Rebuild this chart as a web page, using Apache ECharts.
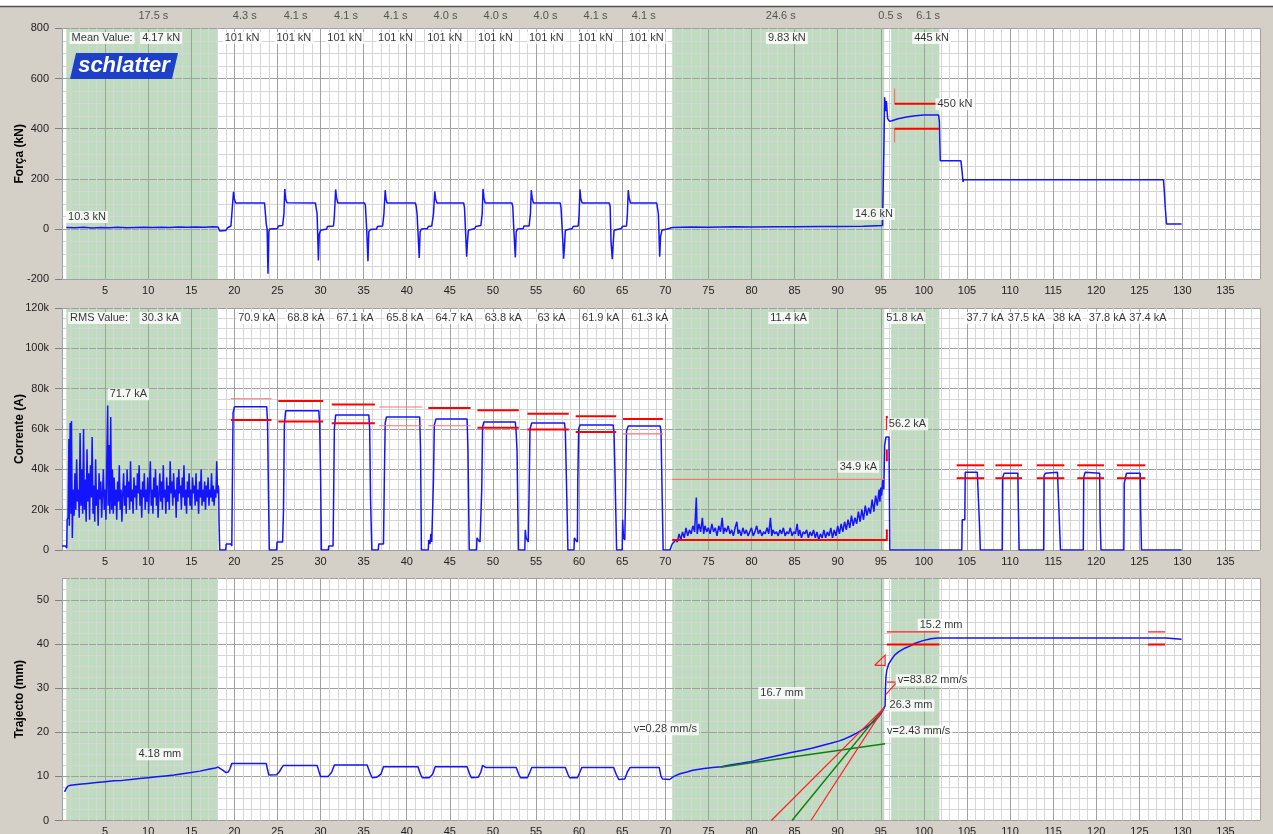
<!DOCTYPE html>
<html><head><meta charset="utf-8">
<script src="https://cdn.jsdelivr.net/npm/echarts@6/dist/echarts.min.js"></script>
<style>html,body{margin:0;padding:0;background:#d4d0c8}#c{width:1273px;height:834px}</style>
</head><body><div id="c"></div>
<script>
// ---------------- DATA ----------------
const timeMax = 139;
const greenZones = [[0.5, 18.1], [70.8, 95.4], [96.2, 101.8]];

// header: segment durations [label, t]
const durationLabels = [["17.5 s",10.6],["4.3 s",21.2],["4.1 s",27.1],["4.1 s",32.95],["4.1 s",38.7],["4.0 s",44.5],["4.0 s",50.3],["4.0 s",56.1],["4.1 s",61.9],["4.1 s",67.5],["24.6 s",83.4],["0.5 s",96.1],["6.1 s",100.5]];

// force panel
const forceMeanLabels = [["Mean Value:",4.65],["4.17 kN",11.5],["101 kN",20.9],["101 kN",26.9],["101 kN",32.8],["101 kN",38.7],["101 kN",44.4],["101 kN",50.3],["101 kN",56.2],["101 kN",61.9],["101 kN",67.8],["9.83 kN",84.1],["445 kN",100.9]];
const forceNotes = [["10.3 kN",2.9,48],["14.6 kN",94.2,60],["450 kN",103.6,498]];
const forceTrace = [[0.5,6],[1.5,5],[2.5,7],[3.5,4],[4.5,6],[5.5,5],[6.5,7],[7.5,5],[8.5,6],[9.5,7],[10.5,6],[11.5,7],[12.5,6],[13.5,8],[14.5,7],[15.5,8],[16.5,7],[17.5,9],[18.1,8],
[18.3,-8],[19.0,-6],[19.2,5],[19.6,12],[19.8,15],[19.9,148],[20.0,120],[20.15,104],[23.5,104],[23.6,100],[23.7,20],[23.8,0],[23.9,-178],[24.0,-10],[24.1,0],[25.0,2],[25.1,12],[25.6,14],[25.75,60],[25.85,160],[25.95,120],[26.1,105],
[29.4,104],[29.5,100],[29.6,60],[29.75,-125],[29.85,-20],[30.0,-5],[30.7,0],[30.8,10],[31.5,12],[31.6,50],[31.75,158],[31.85,125],[32.0,104],
[35.1,104],[35.2,95],[35.35,0],[35.5,-128],[35.6,-10],[35.8,-2],[36.5,0],[36.6,10],[37.2,12],[37.35,60],[37.5,155],[37.6,120],[37.7,104],
[41.0,104],[41.1,90],[41.2,60],[41.45,-115],[41.55,-10],[41.7,0],[42.4,2],[42.5,10],[42.9,12],[43.1,60],[43.25,150],[43.35,120],[43.5,104],
[46.6,104],[46.7,85],[46.85,-30],[46.95,-110],[47.05,-50],[47.15,-5],[47.3,0],[47.9,2],[48.0,10],[48.6,14],[48.75,60],[48.85,160],[48.95,125],[49.1,104],
[52.2,104],[52.3,90],[52.45,-20],[52.6,-113],[52.7,-10],[52.85,0],[53.5,2],[53.6,12],[54.2,12],[54.35,60],[54.45,155],[54.55,125],[54.7,104],
[57.8,104],[57.9,85],[58.1,-40],[58.2,-118],[58.3,-70],[58.4,-5],[58.5,0],[59.2,2],[59.3,10],[59.9,12],[60.0,60],[60.1,158],[60.2,120],[60.35,104],
[63.5,104],[63.6,90],[63.7,-50],[63.85,-120],[63.95,-60],[64.05,-5],[64.2,0],[64.9,2],[65.0,10],[65.5,12],[65.6,60],[65.7,155],[65.8,125],[65.95,104],
[69.0,104],[69.1,100],[69.2,60],[69.35,-110],[69.45,-30],[69.6,-5],[70.2,0],[70.8,6],[73,8],[75,7],[78,9],[80,8],[83,9],[85,9],[88,10],[90,10],[93,11],[95.2,14],
[95.3,14],[95.35,300],[95.45,525],[95.55,470],[95.65,510],[95.8,440],[96.0,430],[96.3,432],[97,440],[98,447],[99,452],[100,455],[101.7,455],[101.8,430],[101.9,272],
[104.3,272],[104.4,240],[104.55,188],[104.6,197],[110,197],[120,197],[127.8,197],[127.9,150],[128.0,90],[128.15,20],[129.9,20]];
const forceLimitsThick = [[[96.6,500],[101.8,500]],[[96.6,400],[101.8,400]]];
const forceLimitsThin = [[[96.6,500],[96.6,560]],[[96.6,400],[96.6,345]]];

// current panel (kA)
const currentRmsLabels = [["RMS Value:",4.3],["30.3 kA",11.4],["70.9 kA",22.6],["68.8 kA",28.3],["67.1 kA",34.0],["65.8 kA",39.8],["64.7 kA",45.5],["63.8 kA",51.2],["63 kA",56.8],["61.9 kA",62.5],["61.3 kA",68.2],["11.4 kA",84.3],["51.8 kA",97.8],["37.7 kA",107.1],["37.5 kA",111.9],["38 kA",116.6],["37.8 kA",121.3],["37.4 kA",126.0]];
const currentNotes = [["71.7 kA",7.7,77.2],["34.9 kA",92.4,41.3],["56.2 kA",98.1,62.3]];
const currentPreheat = [[0,2],[0.4,2],[0.55,1],[0.6,15],[0.7,16],[0.8,55],[0.85,12],[0.95,63],[1.05,18],[1.1,64],[1.2,6],[1.3,30],[1.4,17],[1.5,38],[1.6,20],[1.7,45],[1.8,24],[1.9,30],[2.0,16],[2.1,58],[2.2,22],[2.3,40],[2.4,18],[2.5,60],[2.6,20],[2.7,35],[2.8,14],[2.9,50],[3.0,24],[3.1,38],[3.2,15],[3.3,42],[3.4,26],[3.5,56],[3.6,18],[3.7,32],[3.8,14],[3.9,45],[4.0,22],[4.1,30],[4.2,12],[4.3,38],[4.4,25],[4.5,34],[4.6,16],[4.7,28],[4.8,40],[4.9,20],[5.0,30],[5.1,15],[5.2,45],[5.3,71.7],[5.35,22],[5.45,52],[5.55,18],[5.65,66],[5.75,20],[5.85,40],[5.95,18],[6.05,36],[6.15,22],[6.25,30],[6.35,15],[6.45,34],[6.55,24],[6.65,42],[6.75,20],[6.85,30],[6.95,14],[7.05,28],[7.15,38],[7.25,22],[7.35,32],[7.45,18],[7.55,40],[7.65,26],[7.75,34],[7.85,20],[7.95,44],[8.05,24],[8.15,30],[8.25,18],[8.35,36],[8.45,26],[8.55,32],[8.65,20],[8.75,38],[8.85,28],[8.95,42],[9.05,22],[9.15,30],[9.25,16],[9.35,34],[9.45,26],[9.55,38],[9.65,20],[9.75,30],[9.85,24],[9.95,36],[10.05,18],[10.15,32],[10.25,44],[10.35,22],[10.45,30],[10.55,18],[10.65,36],[10.75,26],[10.85,40],[10.95,22],[11.05,32],[11.15,16],[11.25,28],[11.35,38],[11.45,24],[11.55,34],[11.65,20],[11.75,42],[11.85,26],[11.95,30],[12.05,18],[12.15,36],[12.25,24],[12.35,32],[12.45,20],[12.55,44],[12.65,28],[12.75,34],[12.85,22],[12.95,38],[13.05,26],[13.15,30],[13.25,16],[13.35,36],[13.45,24],[13.55,40],[13.65,28],[13.75,32],[13.85,20],[13.95,36],[14.05,26],[14.15,42],[14.25,22],[14.35,30],[14.45,18],[14.55,34],[14.65,26],[14.75,38],[14.85,22],[14.95,30],[15.05,20],[15.15,36],[15.25,28],[15.35,32],[15.45,22],[15.55,38],[15.65,24],[15.75,30],[15.85,18],[15.95,34],[16.05,26],[16.15,40],[16.25,22],[16.35,30],[16.45,24],[16.55,34],[16.65,20],[16.75,32],[16.85,26],[16.95,36],[17.05,22],[17.15,30],[17.25,26],[17.35,38],[17.45,24],[17.55,32],[17.65,22],[17.75,30],[17.85,26],[17.95,44],[18.05,28],[18.12,32],[18.18,30],[18.22,14]];
const currentPulses = [[18.3,0],[19.0,0],[19.05,3],[19.6,3],[19.7,2],[19.75,25],[19.85,68],[20.0,71],[23.75,71],[23.85,63],[23.95,30],[24.05,0],
[24.9,0],[24.95,4],[25.6,4],[25.7,20],[25.8,62],[25.95,69],[29.8,69],[29.9,62],[30.0,38],[30.1,0],
[30.9,0],[30.95,2],[31.45,2],[31.5,20],[31.6,60],[31.75,67],[35.6,67],[35.7,60],[35.8,25],[35.95,0],
[36.7,0],[36.75,3],[37.3,3],[37.4,35],[37.5,63],[37.65,66],[41.5,66],[41.6,50],[41.7,0],
[42.5,0],[42.55,5],[42.7,3],[42.8,8],[42.9,4],[43.1,35],[43.2,62],[43.4,65],[47.0,65],[47.1,50],[47.25,0],
[48.1,0],[48.15,6],[48.3,5],[48.5,4],[48.7,30],[48.8,61],[48.95,63.5],[52.6,63.5],[52.7,58],[52.8,49],[52.95,0],
[53.7,0],[53.75,10],[53.85,6],[54.1,4],[54.2,30],[54.3,60],[54.5,63],[58.3,63],[58.4,59],[58.5,40],[58.7,0],
[59.4,0],[59.45,6],[59.6,5],[59.8,4],[59.85,35],[59.95,60],[60.1,62],[63.95,62],[64.05,58],[64.15,40],[64.35,0],
[65.0,0],[65.05,15],[65.15,6],[65.3,5],[65.4,30],[65.5,59],[65.7,61.5],[69.4,61.5],[69.5,59],[69.6,35],[69.75,0],[70.55,0]];
const currentForge = [[70.7,2],[70.8,3],[71.0,2.5],[71.2,5],[71.4,4],[71.6,8],[71.8,5],[72.0,9],[72.2,6],[72.4,11],[72.6,7],[72.8,10],[73.0,8],[73.2,12],[73.4,9],[73.6,26],[73.7,8],[73.9,13],[74.1,9],[74.3,16],[74.45,8],[74.6,12],[74.8,9],[75.0,11],[75.2,8],[75.4,13],[75.6,9],[75.8,11],[76.0,7],[76.2,12],[76.4,9],[76.6,16],[76.75,8],[76.9,11],[77.1,9],[77.3,12],[77.5,8],[77.7,10],[77.9,7],[78.1,11],[78.3,14],[78.45,8],[78.6,10],[78.8,7],[79.0,11],[79.2,8],[79.4,10],[79.6,7],[79.8,9],[80.0,11],[80.2,7],[80.4,9],[80.6,12],[80.8,8],[81.0,10],[81.2,7],[81.4,9],[81.6,8],[81.8,11],[82.0,8],[82.2,16],[82.35,7],[82.5,10],[82.7,8],[82.9,9],[83.1,7],[83.3,10],[83.5,8],[83.7,11],[83.9,7],[84.1,9],[84.3,8],[84.5,11],[84.7,7],[84.9,9],[85.1,8],[85.3,13],[85.45,7],[85.6,10],[85.8,6],[86.0,9],[86.2,8],[86.4,10],[86.6,6],[86.8,9],[87.0,7],[87.2,10],[87.4,6],[87.6,9],[87.8,5],[88.0,8],[88.2,6],[88.4,10],[88.6,6],[88.8,9],[89.0,7],[89.2,11],[89.4,6],[89.6,10],[89.8,7],[90.0,12],[90.2,8],[90.4,13],[90.6,9],[90.8,14],[91.0,10],[91.2,15],[91.4,11],[91.6,17],[91.8,12],[92.0,16],[92.2,13],[92.4,19],[92.6,14],[92.8,20],[93.0,15],[93.2,22],[93.4,17],[93.6,21],[93.8,18],[94.0,25],[94.2,19],[94.4,27],[94.6,22],[94.8,30],[94.9,24],[95.0,31],[95.1,27],[95.25,35],[95.35,30],[95.45,52],[95.6,56],[95.95,56],[96.05,0]];
const currentPost = [[104.4,0],[104.45,15],[104.75,15],[104.8,38.5],[106.2,38.5],[106.45,13],[106.55,0],[109.1,0],[109.15,36],[109.3,38],[110.9,38],[111.05,0],[113.9,0],[113.95,37],[114.1,38],[115.5,38.5],[115.7,38],[115.85,0],[118.5,0],[118.55,36],[118.7,38.5],[120.4,38],[120.45,15],[120.55,0],[123.2,0],[123.25,33],[123.45,33],[123.5,38],[125.1,38],[125.15,20],[125.25,0],[129.9,0]];
const currentLimitsThick = [[[19.6,64.5],[24.3,64.5]],[[25.1,73.9],[30.3,73.9]],[[25.1,63.7],[30.3,63.7]],[[31.3,72.2],[36.3,72.2]],[[31.3,62.9],[36.3,62.9]],[[42.5,70.4],[47.4,70.4]],[[48.2,69.3],[53.0,69.3]],[[48.2,60.6],[53.0,60.6]],[[54.0,67.6],[58.8,67.6]],[[54.0,59.8],[58.8,59.8]],[[59.6,66.3],[64.3,66.3]],[[59.6,58.5],[64.3,58.5]],[[65.1,64.9],[69.7,64.9]],
[[103.8,42],[107.0,42]],[[103.8,35.6],[107.0,35.6]],[[108.3,42],[111.4,42]],[[108.3,35.6],[111.4,35.6]],[[113.1,42],[116.3,42]],[[113.1,35.6],[116.3,35.6]],[[117.8,42],[120.9,42]],[[117.8,35.6],[120.9,35.6]],[[122.4,42],[125.7,42]],[[122.4,35.6],[125.7,35.6]],
[[70.8,5],[95.7,5]],[[95.7,59.4],[95.7,66.5]],[[95.7,44],[95.7,49.8]],[[95.7,4.6],[95.7,10.2]]];
const currentLimitsThin = [[[19.6,75],[24.3,75]],[[36.8,70.9],[41.8,70.9]],[[36.8,61.6],[41.8,61.6]],[[42.5,61.6],[47.4,61.6]],[[65.1,57.6],[69.7,57.6]],[[70.8,35],[95.4,35]]];

// stroke panel (mm)
const strokeNotes = [["4.18 mm",11.35,15.0],["v=0.28 mm/s",70.0,20.7],["16.7 mm",83.5,28.9],["26.3 mm",98.5,26.1],["v=83.82 mm/s",101.0,31.8],["v=2.43 mm/s",99.4,20.2],["15.2 mm",102.0,44.4]];
const strokeTrace = [[0.3,6.5],[0.5,7.3],[0.7,7.8],[1.0,8.0],[2,8.2],[3,8.4],[4,8.6],[5,8.8],[6,9.0],[7,9.1],[8,9.3],[9,9.5],[10,9.7],[11,9.9],[12,10.1],[13,10.3],[14,10.6],[15,10.9],[16,11.2],[17,11.6],[17.8,11.9],[18.1,12.1],[18.3,12.2],[18.6,11.5],[19.0,10.9],[19.3,11.0],[19.5,11.8],[19.7,12.9],
[23.7,12.9],[23.85,11.5],[24.0,10.3],[24.9,10.4],[25.2,11.0],[25.5,12.0],[25.7,12.5],[29.6,12.5],[29.8,11.2],[30.0,10.0],[30.9,10.0],[31.3,11.0],[31.6,12.6],
[35.4,12.6],[35.6,12.4],[35.8,10.5],[36.0,9.7],[36.5,9.8],[37.0,10.5],[37.3,12.2],[41.3,12.2],[41.6,10.5],[41.8,9.7],[42.6,9.7],[43.0,10.5],[43.3,12.2],
[47.0,12.2],[47.3,10.5],[47.5,9.7],[48.3,9.8],[48.6,11.0],[48.8,12.5],[49.0,12.2],[49.2,12.0],[52.7,12.0],[53.0,10.5],[53.2,9.7],[54.0,9.7],[54.3,11.0],[54.5,12.0],
[58.4,12.0],[58.7,10.5],[58.9,9.7],[59.8,9.7],[60.1,11.0],[60.3,12.0],[64.0,12.0],[64.3,10.5],[64.6,9.3],[65.3,9.4],[65.6,11.0],[65.9,12.0],
[69.3,12.0],[69.5,10.0],[69.7,9.4],[70.5,9.3],[71.0,10.0],[71.7,10.6],[72.5,11.0],[73.2,11.4],[74.5,11.8],[75.5,12.0],[76.5,12.2],[77.5,12.6],[78.8,13.0],[80,13.4],[81.1,13.9],[82.3,14.4],[83.5,14.9],[84.6,15.4],[85.8,15.9],[87,16.4],[88.2,17.0],[89.2,17.5],[90.1,18.0],[90.8,18.5],[91.5,19.1],[92.2,19.8],[92.9,20.6],[93.5,21.4],[94.1,22.3],[94.6,23.2],[95.0,24.2],[95.3,25.2],[95.5,26.0],
[95.55,30.0],[95.6,32.6],[95.7,34.1],[95.9,35.4],[96.2,36.4],[96.6,37.5],[97.1,38.3],[97.7,39.0],[98.3,39.5],[99.0,40.2],[99.9,40.8],[100.8,41.2],[101.6,41.4],[128.1,41.4],[128.3,41.1],[129.9,41.1]];
const strokeLimitsThick = [[[95.7,39.9],[101.8,39.9]],[[126.0,39.9],[128.0,39.9]]];
const strokeLimitsThin = [[[95.7,42.8],[101.8,42.8]],[[126.0,42.8],[128.0,42.8]],[[82.3,0],[95.4,25.6]],[[86.9,0],[95.4,25.6]],[[95.6,28.6],[96.8,31.2]],[[95.7,31.4],[96.7,31.4]],[[94.3,35.2],[95.5,35.2],[95.5,37.5],[94.3,35.2]]];
const strokeTangents = [[[76.4,12.1],[95.5,17.4]],[[84.7,0],[95.4,25.6]]];

// panel axes: [min, max, major, minor, name]
const panelAxes = [[-200,800,200,50,"Força (kN)"],[0,120,20,5,"Corrente (A)"],[0,55,10,2.5,"Trajecto (mm)"]];
const headerRowValue = [762, 115];
const headerTimeValue = 849;

// ---------------- CHART ----------------
const FONT = 'Liberation Sans, Arial, sans-serif';
const chart = echarts.init(document.getElementById('c'), null, {renderer:'canvas'});
const grids = [
  {left:62, right:13, top:28.4, height:250.8},
  {left:62, right:13, top:308, height:242},
  {left:62, right:13, top:578, height:242.5}
].map(g => Object.assign(g, {show:true, backgroundColor:'#ffffff', borderWidth:0, z:0, containLabel:false, outerBoundsMode:'none'}));

const xAxes = [], yAxes = [];
panelAxes.forEach((p, i) => {
  xAxes.push({gridIndex:i, type:'value', position:'bottom', min:0, max:timeMax, interval:1, z:2,
    axisLabel:{show:false}, axisLine:{show:false, onZero:false}, axisTick:{show:false},
    splitLine:{show:true, lineStyle:{color:'#d6d6d6', width:1}}});
  xAxes.push({gridIndex:i, type:'value', position:'bottom', min:0, max:timeMax, interval:5, z:2,
    axisLabel:{show:true, showMinLabel:false, showMaxLabel:false, fontSize:11, color:'#222', fontFamily:FONT, margin:6},
    axisLine:{show:false, onZero:false}, axisTick:{show:false},
    splitLine:{show:true, lineStyle:{color:'#a0a0a0', width:1}}});
  yAxes.push({gridIndex:i, type:'value', position:'left', min:p[0], max:p[1], interval:p[3], z:2,
    axisLabel:{show:false}, axisLine:{show:false, onZero:false}, axisTick:{show:false},
    splitLine:{show:true, lineStyle:{color:'#d6d6d6', width:1}}});
  yAxes.push({gridIndex:i, type:'value', position:'left', min:p[0], max:p[1], interval:p[2], z:2,
    name:p[4], nameLocation:'middle', nameGap:36, nameMoveOverlap:false,
    nameTextStyle:{fontWeight:'bold', fontSize:12, color:'#000', fontFamily:FONT},
    axisLabel:{show:true, showMaxLabel: (p[1] % p[2] === 0), fontSize:11, color:'#222', fontFamily:FONT, margin:13,
      formatter: i === 1 ? (v => v === 0 ? '0' : v + 'k') : (v => String(v))},
    axisLine:{show:false, onZero:false}, axisTick:{show:true, length:7, lineStyle:{color:'#808080'}},
    splitLine:{show:true, lineStyle:{color:'#a0a0a0', width:1}}});
});

const series = [];
function ax(i){ return {xAxisIndex:2*i+1, yAxisIndex:2*i+1}; }
[0,1,2].forEach(i => {
  series.push(Object.assign({type:'line', data:[], z:1, silent:true,
    markArea:{silent:true, itemStyle:{color:'#c0dcc0'}, data: greenZones.map(z => [{xAxis:z[0]},{xAxis:z[1]}])}}, ax(i)));
});
function blue(i, data){
  series.push(Object.assign({type:'line', data, showSymbol:false, symbol:'none', z:3, silent:true,
    lineStyle:{color:'#1414ff', width:1.5}}, ax(i)));
}
function segs(i, list, color, width){
  series.push(Object.assign({type:'lines', coordinateSystem:'cartesian2d', polyline:true, z:4, silent:true,
    lineStyle:{color, width, opacity:1, curveness:0},
    data: list.map(c => ({coords:c}))}, ax(i)));
}
function notes(i, items, boxed, clip){
  series.push(Object.assign({type:'scatter', symbolSize:1, z:6, silent:true, clip:!!clip,
    itemStyle:{color:'rgba(0,0,0,0)'},
    label:{show:true, position:'inside', formatter:'{b}', fontSize:11, fontFamily:FONT, color:'#000',
      backgroundColor: boxed ? '#ffffff' : 'transparent', padding:[1,2,0,2]},
    data: items.map(d => ({name:d[0], value:[d[1], d[2]]}))}, ax(i)));
}
blue(0, forceTrace);
blue(1, currentPreheat.concat(currentPulses, currentForge, currentPost));
blue(2, strokeTrace);
segs(0, forceLimitsThin, '#ff6a6a', 1.2);
segs(0, forceLimitsThick, '#ff0000', 2);
segs(1, currentLimitsThin, '#ff7070', 1.2);
segs(1, currentLimitsThick, '#ff0000', 2);
segs(2, strokeTangents, '#108010', 1.5);
segs(2, strokeLimitsThin, '#ff2020', 1.2);
segs(2, strokeLimitsThick, '#ff0000', 2);
notes(0, forceMeanLabels.map(d => [d[0], d[1], headerRowValue[0]]), true);
notes(1, currentRmsLabels.map(d => [d[0], d[1], headerRowValue[1]]), true);
notes(0, forceNotes, true);
notes(1, currentNotes, true);
notes(2, strokeNotes, true);
notes(0, durationLabels.map(d => [d[0], d[1], headerTimeValue]), false, false);
series[series.length-1].label.color = '#333';

chart.setOption({
  animation:false,
  backgroundColor:'#d4d0c8',
  grid:grids, xAxis:xAxes, yAxis:yAxes, series,
  graphic:[
    {type:'rect', shape:{x:0,y:0,width:1273,height:6}, style:{fill:'#ffffff'}, z:10},
    {type:'line', shape:{x1:0,y1:6.5,x2:1273,y2:6.5}, style:{stroke:'#505050', lineWidth:1.5}, z:10},
    {type:'polygon', shape:{points:[[76,53],[178,53],[172,79],[70,79]]}, style:{fill:'#1e40c8'}, z:10},
    {type:'text', x:124, y:66, style:{text:'schlatter', fill:'#ffffff', font:'italic bold 22px ' + FONT, textAlign:'center', textVerticalAlign:'middle'}, z:11}
  ]
});
</script></body></html>
